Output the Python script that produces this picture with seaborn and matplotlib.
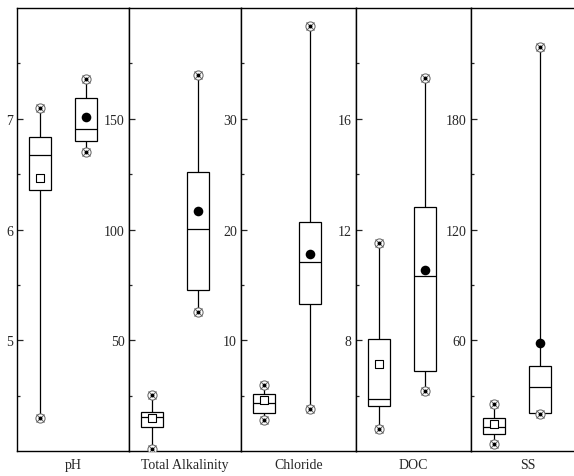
import numpy as np
import pandas as pd
import matplotlib
matplotlib.use('Agg')
import matplotlib.pyplot as plt
import seaborn as sns

# panels
variables = ['pH', 'Total Alkalinity', 'Chloride', 'DOC', 'SS']
y_limits = [(4, 8), (0, 200), (0, 40), (4, 20), (0, 240)]
major_ticks = [[5, 6, 7], [50, 100, 150], [10, 20, 30], [8, 12, 16], [60, 120, 180]]
minor_ticks = [[4.5, 5.5, 6.5, 7.5], [25, 75, 125, 175], [5, 15, 25, 35],
               [6, 10, 14, 18], [30, 90, 150, 210]]
groups = ['A', 'B']

# box statistics: min, q1, median, q3, max
stats_a = [
    [4.30, 6.36, 6.67, 6.84, 7.10],
    [1.2, 11.0, 15.3, 17.8, 25.2],
    [2.8, 3.5, 4.4, 5.2, 6.0],
    [4.82, 5.64, 5.90, 8.06, 11.53],
    [3.7, 9.1, 13.2, 18.1, 25.8],
]
stats_b = [
    [6.70, 6.80, 6.91, 7.19, 7.36],
    [63.0, 72.6, 100.4, 125.9, 169.8],
    [3.8, 13.3, 17.1, 20.7, 38.4],
    [6.16, 6.90, 10.31, 12.80, 17.48],
    [20.3, 20.6, 34.6, 46.2, 219.0],
]
means_a = [6.47, 14.9, 4.6, 7.16, 14.6]
means_b = [7.02, 108.4, 17.8, 10.56, 58.8]

rows = []
for var, sa, sb in zip(variables, stats_a, stats_b):
    for g, s in zip(groups, [sa, sb]):
        for v in s:
            rows.append({'variable': var, 'group': g, 'value': v})
df = pd.DataFrame(rows)

sns.set_style('ticks')
plt.rcParams['font.family'] = ['Liberation Serif', 'DejaVu Serif']
plt.rcParams['font.size'] = 10

W, H = 574, 477
lefts = [17, 129, 241, 356, 470.5]
widths = [112, 112, 115, 114.5, 114.5]
ax_bottom, ax_top = 452.3, 9.0
px_per_unit = 46.0
first_pos = 23.3

fig = plt.figure(figsize=(W / 100, H / 100), dpi=100)

for i, var in enumerate(variables):
    ax = fig.add_axes([lefts[i] / W, (H - ax_bottom) / H, widths[i] / W,
                       (ax_bottom - ax_top) / H])
    sub = df[df['variable'] == var]
    sns.boxplot(data=sub, x='group', y='value', order=groups, whis=(0, 100),
                width=0.48, color='white', linecolor='black', linewidth=0.9,
                showcaps=False, showfliers=False, saturation=1, ax=ax)

    lo = [stats_a[i][0], stats_b[i][0]]
    hi = [stats_a[i][4], stats_b[i][4]]
    ext_x = [0, 1, 0, 1]
    ext_y = lo + hi
    # extreme markers: circle with cross and centre dot
    ax.plot(ext_x, ext_y, ls='none', marker='o', mfc='white', mec='#606060',
            ms=6.6, mew=0.7, zorder=4)
    ax.plot(ext_x, ext_y, ls='none', marker='x', color='#606060',
            ms=5.4, mew=0.7, zorder=5)
    ax.plot(ext_x, ext_y, ls='none', marker='o', color='black',
            ms=1.8, zorder=6)

    # means
    sns.scatterplot(x=[0], y=[means_a[i]], marker='s', s=30, color='white',
                    edgecolor='black', linewidth=0.8, zorder=7, ax=ax)
    sns.scatterplot(x=[1], y=[means_b[i]], marker='o', s=48, color='black',
                    edgecolor='black', linewidth=0, zorder=7, ax=ax)

    ax.set_ylim(*y_limits[i])
    ax.set_xlim(-first_pos / px_per_unit, (widths[i] - first_pos) / px_per_unit)
    ax.set_yticks(major_ticks[i])
    ax.set_yticks(minor_ticks[i], minor=True)
    ax.set_yticklabels([str(t) for t in major_ticks[i]])
    ax.set_xticks([])
    ax.set_xlabel(var, labelpad=4.5)
    ax.set_ylabel('')
    ax.tick_params(axis='y', which='major', direction='in', length=4,
                   width=0.9, pad=3, labelsize=10)
    ax.tick_params(axis='y', which='minor', direction='in', length=2.5,
                   width=0.9)
    for sp in ax.spines.values():
        sp.set_visible(True)
        sp.set_linewidth(1.0)
        sp.set_color('black')

fig.savefig('out.png', dpi=100)
